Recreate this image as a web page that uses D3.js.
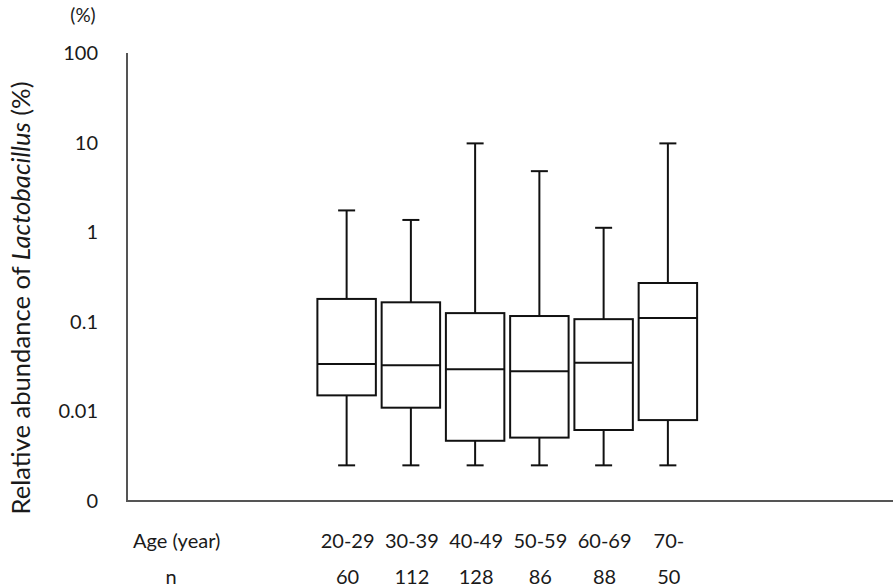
<!DOCTYPE html>
<html>
<head>
<meta charset="utf-8">
<script src="https://cdn.jsdelivr.net/npm/d3@7"></script>
<style>
  body { margin: 0; background: #fff; }
  text { font-family: Lato, "Open Sans", sans-serif; fill: #1a1a1a; }
</style>
</head>
<body>
<svg width="896" height="587"></svg>
<script>
// age groups and sample sizes
var ageGroups = ["20-29", "30-39", "40-49", "50-59", "60-69", "70-"];
var nCounts = [60, 112, 128, 86, 88, 50];

// box plot statistics (% relative abundance)
var whiskerLow = [0.0025, 0.0025, 0.0025, 0.0025, 0.0025, 0.0025];
var q1 = [0.0151, 0.011, 0.0047, 0.0051, 0.0062, 0.008];
var median = [0.0338, 0.0327, 0.0295, 0.0281, 0.035, 0.11];
var q3 = [0.18, 0.165, 0.125, 0.116, 0.107, 0.271];
var whiskerHigh = [1.75, 1.37, 9.8, 4.8, 1.12, 9.8];

var yTicks = [0.001, 0.01, 0.1, 1, 10, 100];
var yTickLabels = ["0", "0.01", "0.1", "1", "10", "100"];

var svg = d3.select("svg");

var data = ageGroups.map(function(g, i) {
  return { group: g, n: nCounts[i], lo: whiskerLow[i], q1: q1[i], med: median[i], q3: q3[i], hi: whiskerHigh[i] };
});

var x = d3.scaleBand()
    .domain(ageGroups)
    .range([314.5, 700])
    .paddingInner(0.09)
    .paddingOuter(0.045);

var y = d3.scaleLog()
    .domain([0.001, 100])
    .range([501, 53]);

var axisColor = "#555";

// axes lines
svg.append("line")
    .attr("x1", 127).attr("x2", 127)
    .attr("y1", y(100)).attr("y2", y(0.001))
    .attr("stroke", axisColor).attr("stroke-width", 2);
svg.append("line")
    .attr("x1", 126).attr("x2", 893)
    .attr("y1", y(0.001)).attr("y2", y(0.001))
    .attr("stroke", axisColor).attr("stroke-width", 2);

// y tick labels
svg.selectAll(".ytick")
    .data(yTicks)
  .enter().append("text")
    .attr("class", "ytick")
    .attr("x", 98)
    .attr("y", function(d) { return y(d); })
    .attr("dy", "0.35em")
    .attr("text-anchor", "end")
    .attr("font-size", 20)
    .text(function(d, i) { return yTickLabels[i]; });

svg.append("text")
    .attr("x", 83).attr("y", 15)
    .attr("dy", "0.35em")
    .attr("text-anchor", "middle")
    .attr("font-size", 19)
    .text("(%)");

// y title
var title = svg.append("text")
    .attr("transform", "translate(30,298) rotate(-90)")
    .attr("text-anchor", "middle")
    .attr("font-size", 25.6);
title.append("tspan").text("Relative abundance of ");
title.append("tspan").attr("font-style", "italic").text("Lactobacillus");
title.append("tspan").text(" (%)");

// boxes
var bw = x.bandwidth();
var capW = 17;
var box = svg.selectAll(".box")
    .data(data)
  .enter().append("g")
    .attr("class", "box")
    .attr("transform", function(d) { return "translate(" + (x(d.group) + bw / 2) + ",0)"; });

var stroke = "#111";

box.append("line")
    .attr("x1", 0).attr("x2", 0)
    .attr("y1", function(d) { return y(d.hi); })
    .attr("y2", function(d) { return y(d.q3); })
    .attr("stroke", stroke).attr("stroke-width", 2);
box.append("line")
    .attr("x1", 0).attr("x2", 0)
    .attr("y1", function(d) { return y(d.q1); })
    .attr("y2", function(d) { return y(d.lo); })
    .attr("stroke", stroke).attr("stroke-width", 2);
box.append("line")
    .attr("x1", -capW / 2).attr("x2", capW / 2)
    .attr("y1", function(d) { return y(d.hi); })
    .attr("y2", function(d) { return y(d.hi); })
    .attr("stroke", stroke).attr("stroke-width", 2);
box.append("line")
    .attr("x1", -capW / 2).attr("x2", capW / 2)
    .attr("y1", function(d) { return y(d.lo); })
    .attr("y2", function(d) { return y(d.lo); })
    .attr("stroke", stroke).attr("stroke-width", 2);
box.append("rect")
    .attr("x", -bw / 2)
    .attr("width", bw)
    .attr("y", function(d) { return y(d.q3); })
    .attr("height", function(d) { return y(d.q1) - y(d.q3); })
    .attr("fill", "#fff")
    .attr("stroke", stroke).attr("stroke-width", 2);
box.append("line")
    .attr("x1", -bw / 2).attr("x2", bw / 2)
    .attr("y1", function(d) { return y(d.med); })
    .attr("y2", function(d) { return y(d.med); })
    .attr("stroke", stroke).attr("stroke-width", 2);

// category and n labels
svg.append("text")
    .attr("x", 133).attr("y", 541)
    .attr("dy", "0.35em")
    .attr("font-size", 20)
    .text("Age (year)");
svg.append("text")
    .attr("x", 171).attr("y", 577)
    .attr("dy", "0.35em")
    .attr("text-anchor", "middle")
    .attr("font-size", 20)
    .text("n");

svg.selectAll(".cat")
    .data(data)
  .enter().append("text")
    .attr("class", "cat")
    .attr("x", function(d) { return x(d.group) + bw / 2 + 1; })
    .attr("y", 541)
    .attr("dy", "0.35em")
    .attr("text-anchor", "middle")
    .attr("font-size", 20)
    .text(function(d) { return d.group; });

svg.selectAll(".ncount")
    .data(data)
  .enter().append("text")
    .attr("class", "ncount")
    .attr("x", function(d) { return x(d.group) + bw / 2 + 1; })
    .attr("y", 577)
    .attr("dy", "0.35em")
    .attr("text-anchor", "middle")
    .attr("font-size", 20)
    .text(function(d) { return d.n; });
</script>
</body>
</html>
